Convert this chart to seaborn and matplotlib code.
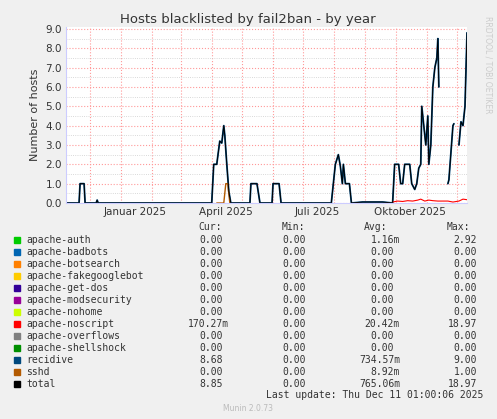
import numpy as np
import pandas as pd
import seaborn as sns
import matplotlib.pyplot as plt
import matplotlib.dates as mdates

# day offsets from 2025-01-01
total_day = [-55, -42, -41, -37, -36, -35, -25, -24, -23, 0, 60, 88, 90, 92, 95, 98, 100, 102, 103, 105, 107, 109, 128, 129, 135, 138, 150, 151, 157, 159, 205, 209, 211, 213, 216, 218, 220, 221, 223, 225, 227, 229, 240, 250, 260, 270, 272, 276, 278, 280, 282, 287, 289, 292, 294, 296, 298, 299, 301, 303, 305, 306, 308, 310, 312, 314, 315, 316, 325, 326, 330, 331, 336, 338, 340, 342, 344]
total_val = [0, 0, 1, 1, 0, 0, 0, 0.15, 0, 0, 0, 0, 0, 2, 2, 3.2, 3.1, 4, 3.5, 2, 0.6, 0, 0, 1, 1, 0, 0, 1, 1, 0, 0, 0, 1, 2, 2.5, 1.9, 1, 2, 1, 1, 1, 0, 0.05, 0.05, 0.05, 0, 2, 2, 1, 1, 2, 2, 1, 0.7, 1, 1.8, 2, 5, 4, 3, 4.5, 2, 3, 6, 7, 7.5, 8.5, 6, 1, 1.2, 4, 4.1, 3, 4.2, 4, 5, 8.8]
total_seg = [0] * 68 + [1] * 4 + [2] * 5

sshd_day = [95, 102, 104, 106, 108]
sshd_val = [0, 0, 1, 1, 0]

noscript_day = [270, 275, 280, 285, 290, 295, 298, 302, 306, 310, 315, 325, 330, 336, 340, 344]
noscript_val = [0.05, 0.1, 0.08, 0.12, 0.1, 0.15, 0.2, 0.1, 0.15, 0.12, 0.1, 0.1, 0.05, 0.1, 0.2, 0.17]

names = ["apache-auth", "apache-badbots", "apache-botsearch", "apache-fakegooglebot",
         "apache-get-dos", "apache-modsecurity", "apache-nohome", "apache-noscript",
         "apache-overflows", "apache-shellshock", "recidive", "sshd", "total"]
colors = ["#00CC00", "#0066B3", "#FF8000", "#FFCC00", "#330099", "#990099", "#CCFF00",
          "#FF0000", "#808080", "#008F00", "#00487D", "#B35A00", "#000000"]
cur = ["0.00"] * 7 + ["170.27m", "0.00", "0.00", "8.68", "0.00", "8.85"]
mins = ["0.00"] * 13
avg = ["1.16m"] + ["0.00"] * 6 + ["20.42m", "0.00", "0.00", "734.57m", "8.92m", "765.06m"]
mx = ["2.92"] + ["0.00"] * 6 + ["18.97", "0.00", "0.00", "9.00", "1.00", "18.97"]

base = pd.Timestamp("2025-01-01")
total = pd.DataFrame({"date": base + pd.to_timedelta(total_day, "D"), "v": total_val, "seg": total_seg})
sshd = pd.DataFrame({"date": base + pd.to_timedelta(sshd_day, "D"), "v": sshd_val})
nos = pd.DataFrame({"date": base + pd.to_timedelta(noscript_day, "D"), "v": noscript_val})

sns.set_style("white")
plt.rcParams["font.family"] = ["DejaVu Sans"]
fig = plt.figure(figsize=(4.97, 4.19), dpi=100, facecolor="#F0F0F0")
ax = fig.add_axes([66 / 497, 216 / 419, 401 / 497, 176 / 419])
ax.set_facecolor("white")

sns.lineplot(data=total, x="date", y="v", units="seg", estimator=None, color="#00487D", lw=1.3, ax=ax)
sns.lineplot(data=sshd, x="date", y="v", color="#B35A00", lw=1, ax=ax)
sns.lineplot(data=nos, x="date", y="v", color="#FF0000", lw=0.8, ax=ax)
sns.lineplot(data=total, x="date", y="v", units="seg", estimator=None, color="#000000", lw=0.7, ax=ax)

ax.set_xlim(pd.Timestamp("2024-11-07"), pd.Timestamp("2025-12-11"))
ax.set_ylim(0, 9.1)
ax.set_yticks(np.arange(0, 9.5, 0.5), minor=True)
ax.set_yticks(np.arange(0, 10, 1.0))
ax.set_yticklabels([f"{v:.1f}" for v in range(10)], fontsize=7.5, color="#333333")
ax.xaxis.set_major_locator(mdates.MonthLocator())
ax.xaxis.set_major_formatter(plt.NullFormatter())
mid = [pd.Timestamp(f"2025-{m:02d}-15") for m in (1, 4, 7, 10)]
ax.set_xticks(mid, minor=True)
ax.set_xticklabels(["Januar 2025", "April 2025", "Juli 2025", "Oktober 2025"], minor=True, fontsize=7.5, color="#333333")
ax.tick_params(which="both", length=0, pad=3)
ax.grid(True, which="major", color="#FF9999", ls=":", lw=0.8)
ax.grid(True, which="minor", axis="y", color="#CCCCCC", ls=":", lw=0.6)
for s in ["top", "right"]:
    ax.spines[s].set_visible(False)
for s in ["left", "bottom"]:
    ax.spines[s].set_color("#CCCCFF")
ax.set_xlabel("")
ax.set_ylabel("Number of hosts", fontsize=8, color="#333333")

fig.text(248 / 497, 1 - 19 / 419, "Hosts blacklisted by fail2ban - by year", ha="center", va="center", fontsize=9.5, color="#333333")
fig.text(488 / 497, 1 - 65 / 419, "RRDTOOL / TOBI OETIKER", rotation=270, ha="center", va="center", fontsize=5.5, color="#CCCCCC")

mono = "DejaVu Sans Mono"
fs = 7
hy = 227
for xr, h in [(222, "Cur:"), (305, "Min:"), (387, "Avg:"), (470, "Max:")]:
    fig.text(xr / 497, 1 - hy / 419, h, ha="right", va="center", family=mono, fontsize=fs, color="#333333")
for i, n in enumerate(names):
    y = 1 - (240 + 12 * i) / 419
    fig.patches.append(plt.Rectangle((14 / 497, y - 3 / 419), 6 / 497, 6 / 419, transform=fig.transFigure, color=colors[i]))
    fig.text(26 / 497, y, n, va="center", family=mono, fontsize=fs, color="#333333")
    fig.text((229 if cur[i].endswith("m") else 229 - 6) / 497, y, cur[i], ha="right", va="center", family=mono, fontsize=fs, color="#333333")
    fig.text((312 - 6) / 497, y, mins[i], ha="right", va="center", family=mono, fontsize=fs, color="#333333")
    fig.text((400 if avg[i].endswith("m") else 400 - 6) / 497, y, avg[i], ha="right", va="center", family=mono, fontsize=fs, color="#333333")
    fig.text(477 / 497, y, mx[i], ha="right", va="center", family=mono, fontsize=fs, color="#333333")
fig.text(483 / 497, 1 - 395 / 419, "Last update: Thu Dec 11 01:00:06 2025", ha="right", va="center", family=mono, fontsize=fs, color="#333333")
fig.text(248 / 497, 1 - 408 / 419, "Munin 2.0.73", ha="center", va="center", fontsize=5.5, color="#BBBBBB")

fig.savefig("out.png", dpi=100, facecolor="#F0F0F0")
